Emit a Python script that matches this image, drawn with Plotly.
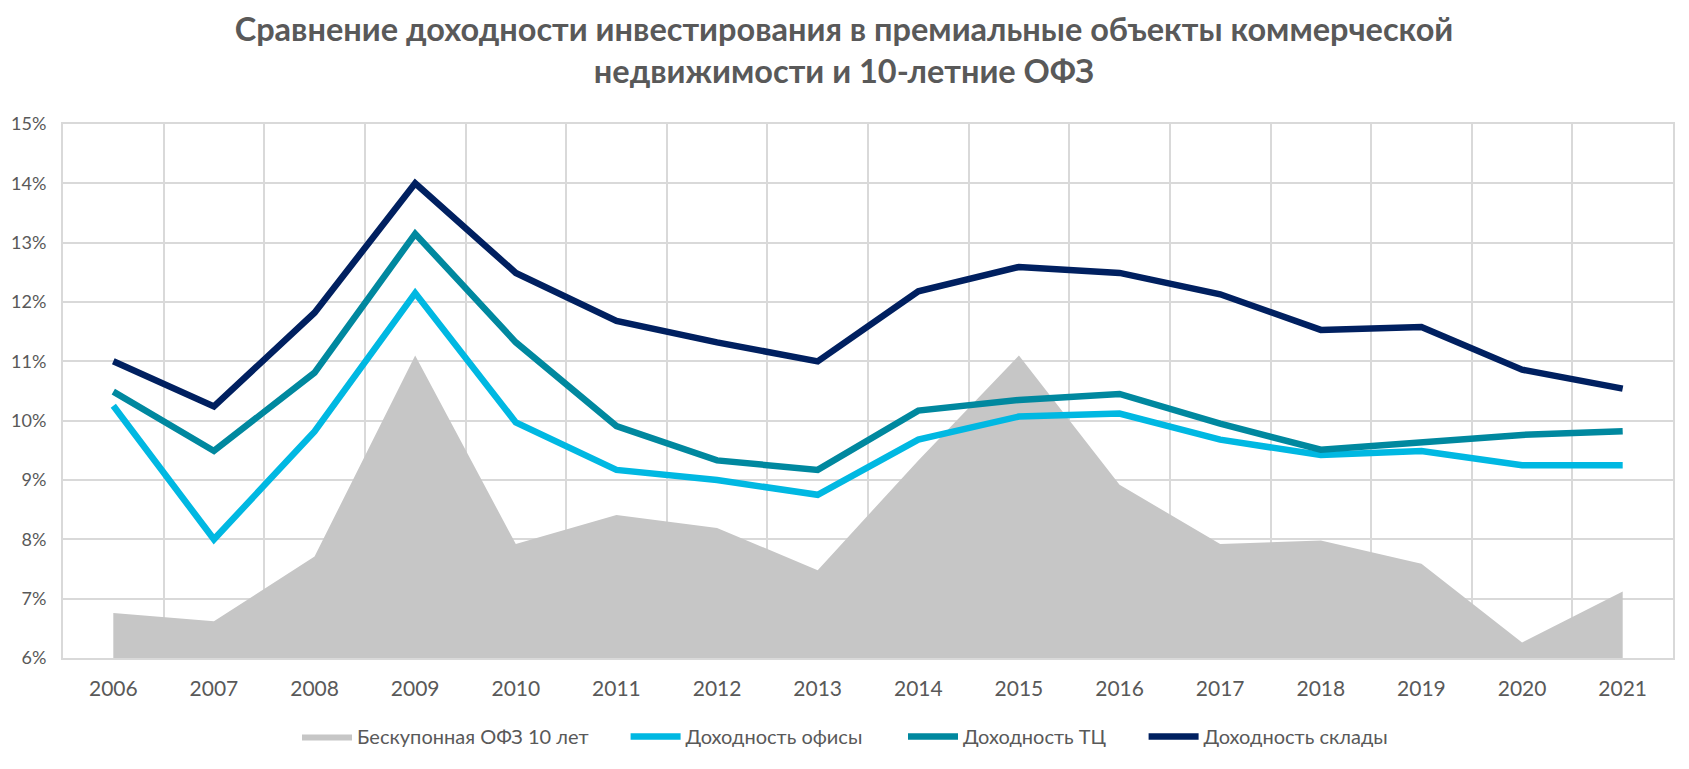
import plotly.graph_objects as go

years = ["2006", "2007", "2008", "2009", "2010", "2011", "2012", "2013",
         "2014", "2015", "2016", "2017", "2018", "2019", "2020", "2021"]

ofz_10y = [6.76, 6.62, 7.71, 11.10, 7.92, 8.41, 8.19, 7.48,
           9.33, 11.10, 8.92, 7.92, 7.98, 7.59, 6.26, 7.12]
offices = [10.25, 8.00, 9.82, 12.15, 9.97, 9.17, 9.00, 8.75,
           9.68, 10.07, 10.12, 9.68, 9.42, 9.49, 9.25, 9.25]
retail = [10.49, 9.49, 10.81, 13.15, 11.32, 9.91, 9.33, 9.17,
          10.17, 10.35, 10.45, 9.95, 9.51, 9.63, 9.76, 9.82]
warehouses = [11.0, 10.24, 11.82, 14.0, 12.49, 11.68, 11.32, 11.0,
              12.18, 12.59, 12.49, 12.13, 11.53, 11.58, 10.86, 10.54]

names = ["Бескупонная ОФЗ 10 лет", "Доходность офисы", "Доходность ТЦ", "Доходность склады"]
colors = ["#C6C6C6", "#00B8E2", "#00889F", "#002060"]

y_ticks = list(range(6, 16))
y_text = [f"{v}%" for v in y_ticks]

FONT = "Lato, Roboto, 'Open Sans', sans-serif"
TXT = "#595959"

fig = go.Figure()
fig.add_trace(go.Scatter(
    x=years, y=ofz_10y, name=names[0], mode="lines", fill="tozeroy",
    fillcolor=colors[0], line=dict(width=0, color=colors[0]), legend="legend",
))
fig.add_trace(go.Scatter(
    x=years, y=offices, name=names[1], mode="lines",
    line=dict(width=6.5, color=colors[1]), legend="legend2",
))
fig.add_trace(go.Scatter(
    x=years, y=retail, name=names[2], mode="lines",
    line=dict(width=6.5, color=colors[2]), legend="legend3",
))
fig.add_trace(go.Scatter(
    x=years, y=warehouses, name=names[3], mode="lines",
    line=dict(width=6.5, color=colors[3]), legend="legend4",
))

# the page body adds an 8px offset; the figure is sized so it fills the window
OFF = 8
W, H = 1689 - OFF, 769 - OFF
L, T = 63 - OFF, 124 - OFF
R = W - (1673 - OFF)
B = H - (658 - OFF)

leg_y = 1 - (736.5 - OFF) / H
leg_common = dict(orientation="h", yanchor="middle", y=leg_y, yref="container",
                  xref="container", xanchor="left",
                  font=dict(family=FONT, size=20, color=TXT),
                  bgcolor="rgba(0,0,0,0)", itemwidth=50, tracegroupgap=0)

fig.update_layout(
    width=W, height=H,
    margin=dict(l=L, r=R, t=T, b=B),
    paper_bgcolor="white", plot_bgcolor="white",
    title=dict(
        text="Сравнение доходности инвестирования в премиальные объекты коммерческой<br>недвижимости и 10-летние ОФЗ",
        x=(844 - OFF) / W, xanchor="center", xref="container",
        y=1 - 33 / H, yanchor="top", yref="container",
        font=dict(family=FONT, size=32.5, color=TXT, weight="bold"),
    ),
    xaxis=dict(
        type="category", tickson="boundaries", showgrid=True,
        gridcolor="#D9D9D9", gridwidth=2,
        showline=True, linecolor="#D9D9D9", linewidth=2, mirror=True,
        ticks="", ticklabelstandoff=11,
        tickfont=dict(family=FONT, size=21, color=TXT),
        range=[-0.5, 15.5], fixedrange=True, automargin=False,
    ),
    yaxis=dict(
        range=[6, 15], tickvals=y_ticks, ticktext=y_text,
        showgrid=True, gridcolor="#D9D9D9", gridwidth=2,
        showline=True, linecolor="#D9D9D9", linewidth=2, mirror=True,
        ticks="outside", ticklen=11, tickcolor="rgba(0,0,0,0)",
        tickfont=dict(family=FONT, size=18, color=TXT),
        zeroline=False, fixedrange=True, automargin=False,
    ),
    legend=dict(x=(305 - OFF - 8) / W, **leg_common),
    legend2=dict(x=(633.6 - OFF - 8) / W, **leg_common),
    legend3=dict(x=(911 - OFF - 8) / W, **leg_common),
    legend4=dict(x=(1151.6 - OFF - 8) / W, **leg_common),
    showlegend=True,
)

fig.write_html("out.html")
